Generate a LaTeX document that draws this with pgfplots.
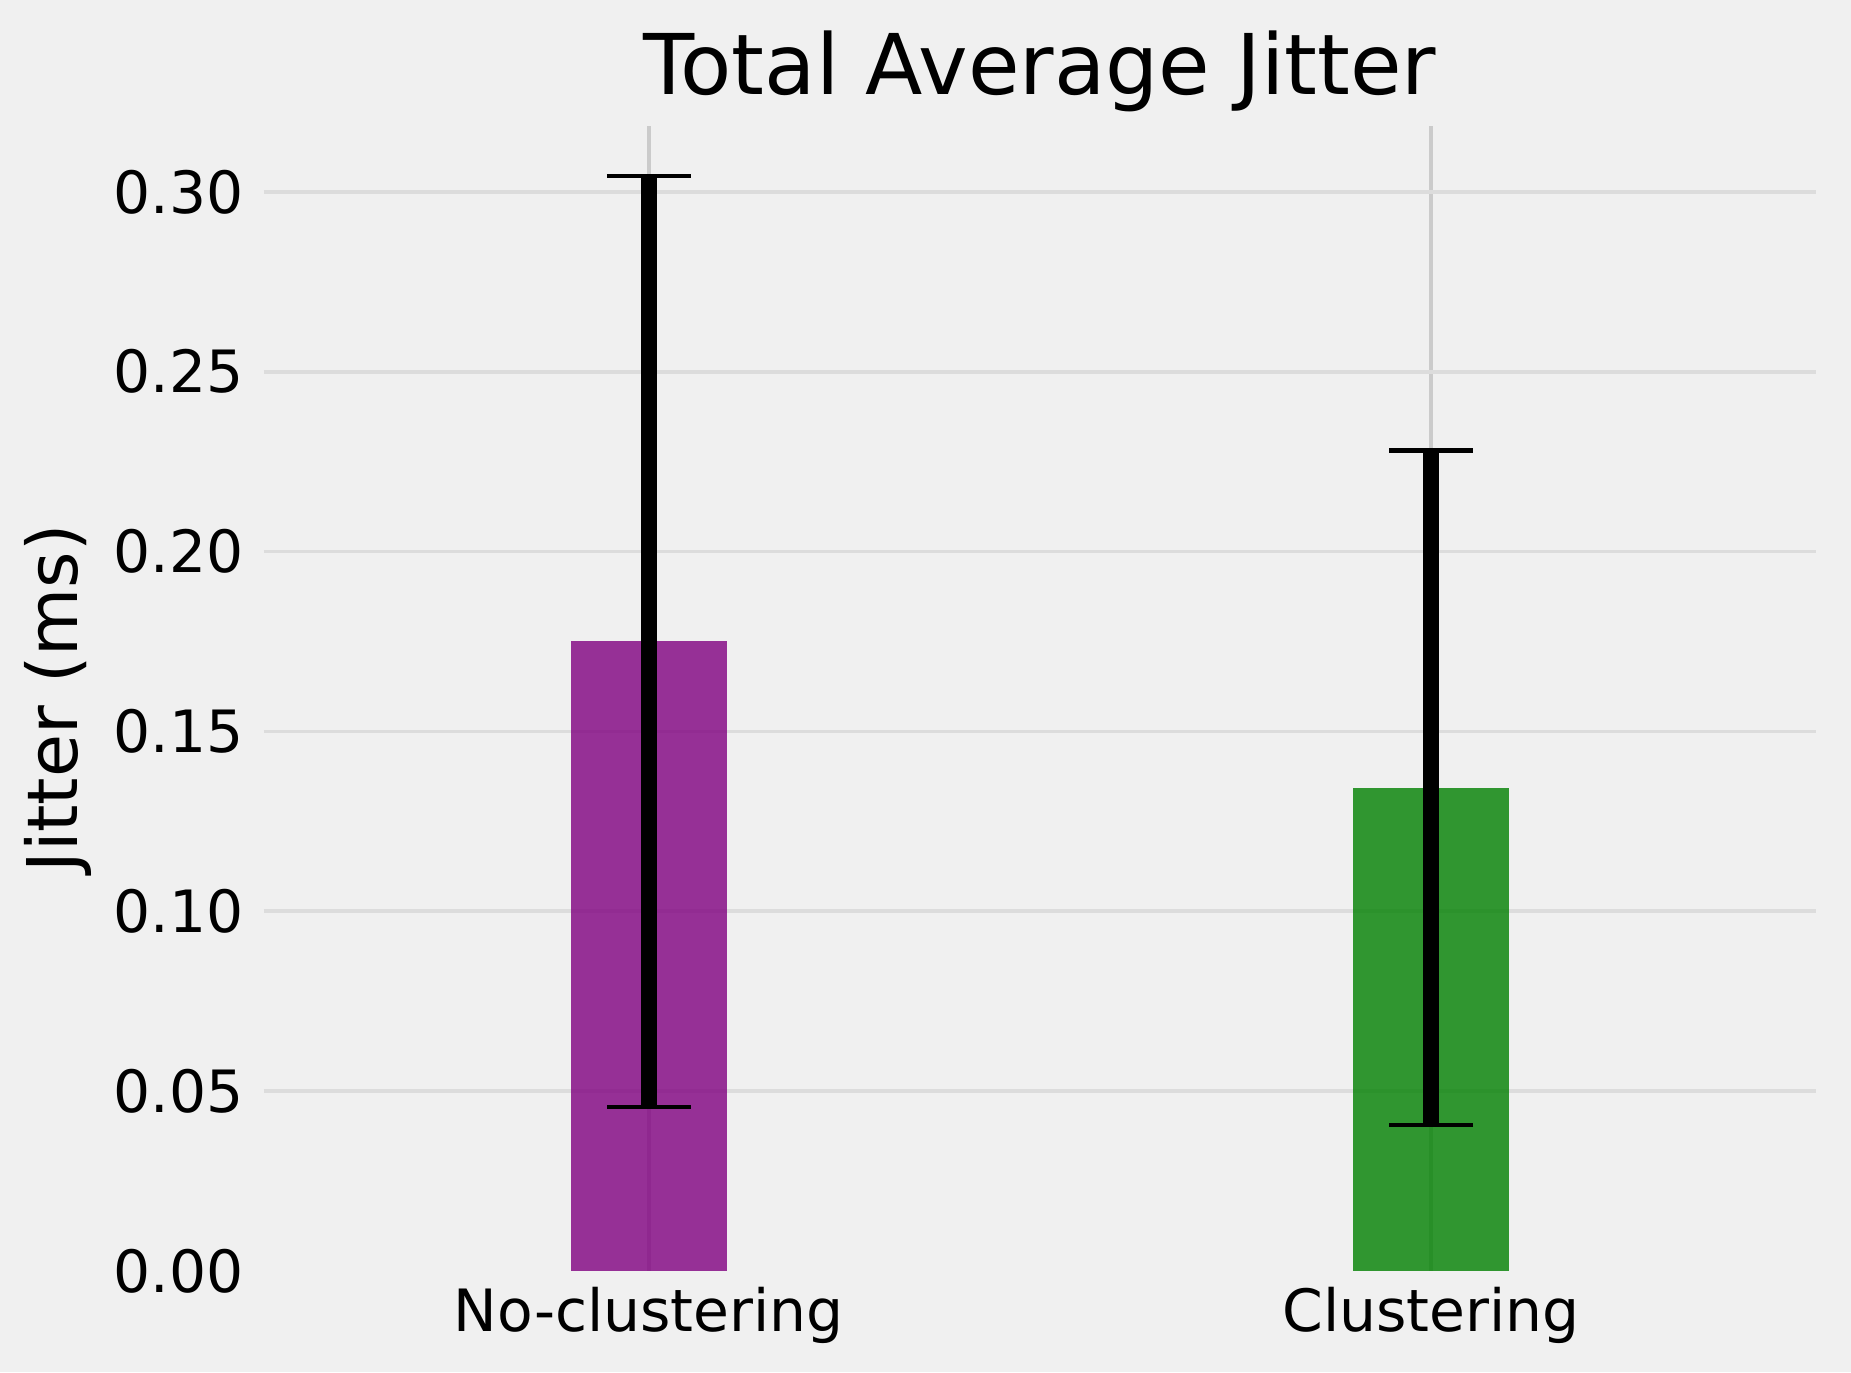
\documentclass[border=0pt]{standalone}
\usepackage{pgfplots}
\pgfplotsset{compat=1.18}
\usepackage{fontspec}
\setmainfont{DejaVu Sans}

\definecolor{bg}{HTML}{F0F0F0}
\definecolor{gridh}{HTML}{DCDCDC}
\definecolor{gridv}{HTML}{CBCBCB}
\definecolor{barpurple}{HTML}{800080}
\definecolor{bargreen}{HTML}{008000}

\begin{document}
\begin{tikzpicture}
% figure background (sets the page size)
\fill[bg] (-61.1pt,-23.5pt) rectangle (367.4pt,294.2pt);
\begin{axis}[
    at={(0,0)}, anchor=south west,
    scale only axis,
    width=359.3pt, height=265pt,
    xmin=-0.492, xmax=1.492,
    ymin=0, ymax=0.3183,
    xtick={0,1},
    xticklabels={No-clustering,Clustering},
    ytick={0.05,0.10,0.15,0.20,0.25,0.30},
    yticklabels={0.05,0.10,0.15,0.20,0.25,0.30},
    extra y ticks={0},
    extra y tick labels={0.00},
    extra y tick style={grid=none},
    axis line style={draw=none},
    major tick length=0pt,
    grid=major,
    x grid style={color=gridv, line width=0.93pt},
    y grid style={color=gridh, line width=0.85pt},
    ticklabel style={font=\fontsize{13.5}{16}\selectfont},
    yticklabel style={anchor=east, inner sep=0pt, xshift=-4.5pt},
    xticklabel style={anchor=base, inner sep=0pt, yshift=-14pt},
    ylabel={Jitter (ms)},
    ylabel style={at={(axis description cs:-0.12,0.5)}, anchor=base,
      font=\fontsize{16.2}{19}\selectfont, inner sep=0pt},
    title={Total Average Jitter},
    every axis title/.style={at={(axis description cs:0.5,1)}, anchor=base,
      yshift=7.4pt, font=\fontsize{19.4}{23}\selectfont, inner sep=0pt},
    ybar, bar width=0.2, bar shift=0pt,
    error bars/y dir=both,
    error bars/y explicit,
    error bars/error bar style={black, line width=3.7pt, fill opacity=1, draw opacity=1},
    error bars/error mark options={rotate=90, black, line width=1pt, mark size=9.7pt, draw opacity=1},
]
\addplot[fill=barpurple, fill opacity=0.8, draw=none]
  coordinates {(0,0.175) +- (0,0.1295)};
\addplot[fill=bargreen, fill opacity=0.8, draw=none]
  coordinates {(1,0.1343) +- (0,0.0938)};
\end{axis}
\end{tikzpicture}
\end{document}
